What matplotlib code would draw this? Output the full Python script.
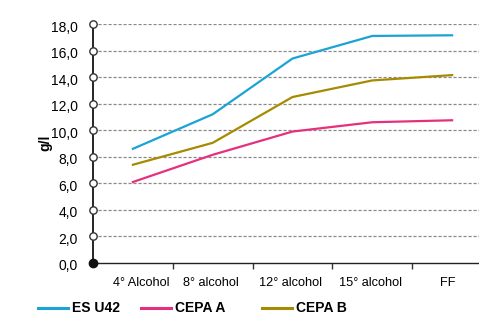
import matplotlib
matplotlib.use("Agg")
import matplotlib.pyplot as plt
from matplotlib.lines import Line2D
from matplotlib.transforms import ScaledTranslation

plt.rcParams['font.family'] = ['Liberation Sans', 'DejaVu Sans']

categories = ["4° Alcohol", "8° alcohol", "12° alcohol", "15° alcohol", "FF"]
es_u42 = [8.6, 11.2, 15.4, 17.1, 17.15]
cepa_a = [6.1, 8.15, 9.9, 10.6, 10.75]
cepa_b = [7.4, 9.05, 12.5, 13.75, 14.15]
series_names = ["ES U42", "CEPA A", "CEPA B"]
colors = ["#1ba3d6", "#e5307d", "#a68a00"]
y_ticks = [0, 2, 4, 6, 8, 10, 12, 14, 16, 18]

fig = plt.figure(figsize=(4.79, 3.28), dpi=100)
ax = fig.add_axes([93 / 479, 1 - 263 / 328, 1 - 93 / 479, (263 - 24) / 328])

x = list(range(len(categories)))
for vals, c in zip([es_u42, cepa_a, cepa_b], colors):
    ax.plot(x, vals, color=c, lw=1.6, solid_joinstyle='miter', zorder=3)

ax.set_ylim(0, 18)
ax.set_xlim(-0.5, -0.5 + (479 - 93) / 79.8)

# dashed horizontal grid
for yv in y_ticks[1:]:
    ax.axhline(yv, color="#8a8a8a", lw=0.9, ls=(0, (2.5, 1.5)), zorder=1)

ax.set_yticks(y_ticks)
ax.set_yticklabels([f"{v:.1f}".replace(".", ",") for v in y_ticks], fontsize=10)
ax.tick_params(axis='y', length=0, pad=11)
for lbl in ax.get_yticklabels():
    lbl.set_transform(lbl.get_transform() + ScaledTranslation(0, -2 / 100, fig.dpi_scale_trans))

ax.set_xticks(x)
ax.set_xticklabels(categories, fontsize=9.2)
ax.tick_params(axis='x', which='major', length=0, pad=10)
# small horizontal nudges of the category labels
for lbl, dx in zip(ax.get_xticklabels(), [8, -2, -2, -2, -4]):
    lbl.set_transform(lbl.get_transform() + ScaledTranslation(dx / 100, 0, fig.dpi_scale_trans))
ax.set_xticks([i + 0.5 for i in range(len(categories) - 1)], minor=True)
ax.tick_params(axis='x', which='minor', length=4, width=1, color="#333333", direction='out')

for s in ['top', 'right']:
    ax.spines[s].set_visible(False)
ax.spines['left'].set_color('black')
ax.spines['left'].set_linewidth(1.2)
ax.spines['bottom'].set_color('#222222')
ax.spines['bottom'].set_linewidth(1.0)

# circle markers on the value axis
ax.plot([-0.5] * (len(y_ticks) - 1), y_ticks[1:], 'o', ms=5.3, mfc='white', mec='#333333',
        mew=1.0, clip_on=False, zorder=5)
ax.plot([-0.5], [0], 'o', ms=6, mfc='#111111', mec='#111111', clip_on=False, zorder=5)

fig.text(45 / 479, 1 - 143 / 328, "g/l", rotation=90, fontsize=10, fontweight='bold',
         ha='center', va='center')

# legend row
leg_x = [38, 141, 262]
for name, c, lx in zip(series_names, colors, leg_x):
    ly = 1 - 308 / 328
    fig.add_artist(Line2D([lx / 479, (lx + 30) / 479], [ly, ly], color=c, lw=2.2,
                          transform=fig.transFigure))
    fig.text((lx + 34) / 479, ly, name, fontsize=10, fontweight='bold', va='center', ha='left')

fig.savefig("out.png", dpi=100)
